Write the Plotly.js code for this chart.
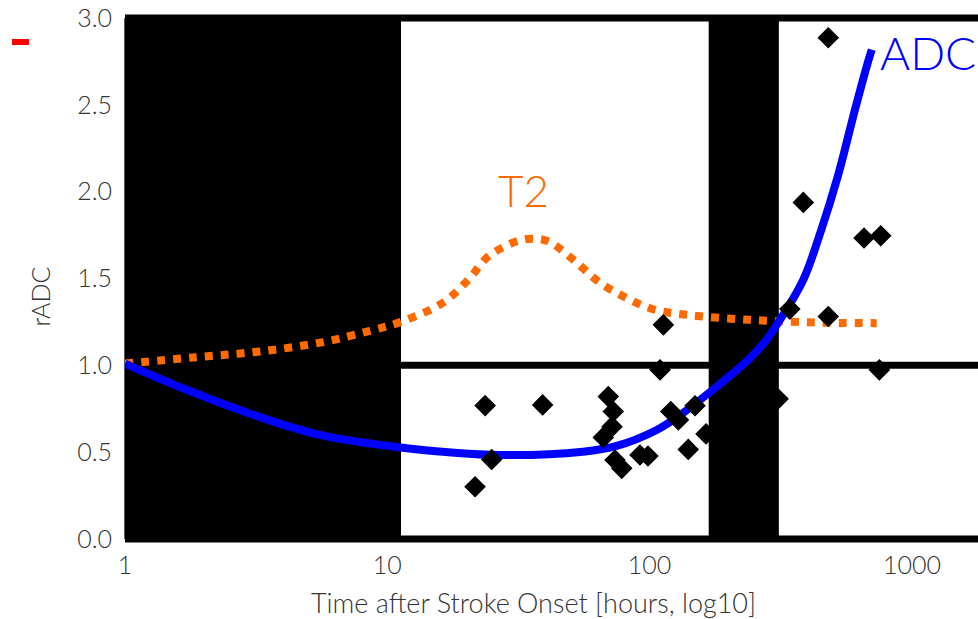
<!DOCTYPE html>
<html><head><meta charset="utf-8">
<script src="https://cdn.plot.ly/plotly-3.0.1.min.js"></script>
<style>html,body{margin:0;padding:0;overflow:hidden;background:#fff}</style>
</head><body><div id="chart" style="width:978px;height:619px"></div>
<script>
// ADC fitted curve
const adcX = [1, 1.719, 3.084, 5.54, 11.86, 26.9, 55.7, 74.9, 106.4, 134.1, 180.3, 241.4, 279.1, 314.2, 385.5, 450.2, 522.7, 606.9, 672.6, 702.8];
const adcY = [1.01, 0.859, 0.715, 0.599, 0.523, 0.484, 0.503, 0.536, 0.628, 0.726, 0.878, 1.042, 1.147, 1.262, 1.493, 1.775, 2.092, 2.473, 2.722, 2.818];
// T2 curve
const t2X = [1, 1.877, 3.27, 5.70, 8.59, 11.35, 16.35, 20.37, 24.27, 31.14, 35.52, 41.1, 51.2, 63.75, 81.8, 104.8, 138.5, 241.4, 420.9, 734.2];
const t2Y = [1.01, 1.047, 1.080, 1.134, 1.199, 1.252, 1.362, 1.493, 1.627, 1.714, 1.729, 1.714, 1.608, 1.483, 1.387, 1.320, 1.291, 1.262, 1.247, 1.243];
// measured rADC values
const ptX = [21.6, 23.6, 25.0, 39.1, 69.6, 72.7, 71.9, 66.6, 73.8, 78.3, 91.9, 98.6, 109.6, 112.8, 120.4, 128.7, 140.4, 149.0, 164.1, 308.8, 342.4, 385.5, 479.9, 479.9, 656.8, 760.6, 751.3];
const ptY = [0.301, 0.768, 0.458, 0.772, 0.820, 0.734, 0.647, 0.585, 0.455, 0.407, 0.484, 0.478, 0.974, 1.233, 0.734, 0.686, 0.516, 0.767, 0.605, 0.807, 1.324, 1.938, 2.886, 1.281, 1.733, 1.746, 0.974];
// shaded time windows (hours)
const bandStart = [1, 168];
const bandEnd = [11.28, 311];
const refLevels = [0, 1, 3];
const xTickVals = [1, 10, 100, 1000];
const xTickText = ['1', '10', '100', '1000'];
const yTickVals = [0, 0.5, 1, 1.5, 2, 2.5, 3];
const yTickText = ['0.0', '0.5', '1.0', '1.5', '2.0', '2.5', '3.0'];
const seriesLabels = ['ADC', 'T2'];

const FONT = 'Lato, "Open Sans", sans-serif';

const traces = [
  {x: t2X, y: t2Y, type: 'scatter', mode: 'lines', line: {color: '#ff6a00', width: 8, dash: '8px,8px', shape: 'spline', smoothing: 1}},
  {x: adcX, y: adcY, type: 'scatter', mode: 'lines', line: {color: '#0000ff', width: 8, shape: 'spline', smoothing: 1}},
  {x: ptX, y: ptY, type: 'scatter', mode: 'markers', marker: {symbol: 'diamond', size: 15, color: '#000', line: {width: 1.5, color: '#000'}}}
];

const shapes = [];
for (let i = 0; i < bandStart.length; i++) {
  shapes.push({type: 'rect', xref: 'x', yref: 'y', x0: bandStart[i], x1: bandEnd[i], y0: 0, y1: 3, fillcolor: '#000', line: {width: 0}, layer: 'below'});
}
refLevels.forEach(v => {
  if (v === 0 || v === 3) {
    shapes.push({type: 'line', xref: 'paper', yref: 'paper', x0: 0, x1: 1, y0: v / 3, y1: v / 3, line: {color: '#000', width: 7}, layer: 'below'});
  } else {
    shapes.push({type: 'line', xref: 'paper', yref: 'y', x0: 0, x1: 1, y0: v, y1: v, line: {color: '#000', width: 7}, layer: 'below'});
  }
});
// small red mark top-left
shapes.push({type: 'rect', xref: 'paper', yref: 'paper', x0: -0.1325, x1: -0.1125, y0: 0.9482, y1: 0.9597, fillcolor: '#ff0000', line: {width: 0}});

const layout = {
  width: 978, height: 619,
  margin: {l: 125, r: 0, t: 18, b: 80, pad: 0},
  paper_bgcolor: '#fff', plot_bgcolor: '#fff',
  showlegend: false,
  font: {family: FONT, color: '#333', weight: 300},
  xaxis: {
    type: 'log', range: [0, 3.252],
    tickvals: xTickVals, ticktext: xTickText,
    ticks: 'outside', ticklen: 4, tickcolor: 'rgba(0,0,0,0)',
    tickfont: {family: FONT, size: 25, color: '#333', weight: 300},
    showgrid: false, zeroline: false, showline: false
  },
  yaxis: {
    range: [0, 3],
    tickvals: yTickVals, ticktext: yTickText,
    ticks: 'outside', ticklen: 7, tickcolor: 'rgba(0,0,0,0)',
    tickfont: {family: FONT, size: 25, color: '#333', weight: 300},
    showgrid: false, zeroline: false,
    showline: true, linecolor: '#555', linewidth: 1
  },
  shapes: shapes,
  annotations: [
    {xref: 'x', yref: 'y', x: 2.872, y: 2.80, text: seriesLabels[0], showarrow: false, xanchor: 'left', yanchor: 'middle',
     font: {family: FONT, size: 46, color: '#0000ff', weight: 300}},
    {xref: 'x', yref: 'y', x: 1.521, y: 2.01, text: seriesLabels[1], showarrow: false, xanchor: 'center', yanchor: 'middle',
     font: {family: FONT, size: 44, color: '#ff6a00', weight: 300}},
    {xref: 'paper', yref: 'paper', x: 0.479, y: -0.122, text: 'Time after Stroke Onset [hours, log10]', showarrow: false,
     xanchor: 'center', yanchor: 'middle', font: {family: FONT, size: 27, color: '#333', weight: 300}},
    {xref: 'paper', yref: 'paper', x: -0.1, y: 0.465, text: 'rADC', showarrow: false, textangle: -90,
     xanchor: 'center', yanchor: 'middle', font: {family: FONT, size: 25, color: '#333', weight: 300}}
  ]
};

Plotly.newPlot('chart', traces, layout, {displayModeBar: false, staticPlot: true});
</script>
</body></html>
